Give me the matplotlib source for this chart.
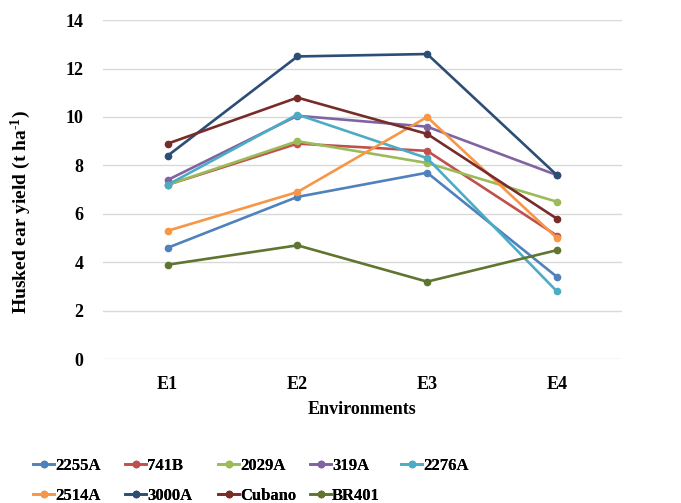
import matplotlib
matplotlib.use("Agg")
import matplotlib.pyplot as plt

envs = ["E1", "E2", "E3", "E4"]
names = ["2255A", "741B", "2029A", "319A", "2276A", "2514A", "3000A", "Cubano", "BR401"]
v_2255A = [4.6, 6.7, 7.7, 3.4]
v_741B = [7.2, 8.9, 8.6, 5.1]
v_2029A = [7.2, 9.0, 8.1, 6.5]
v_319A = [7.4, 10.05, 9.6, 7.6]
v_2276A = [7.2, 10.1, 8.3, 2.8]
v_2514A = [5.3, 6.9, 10.0, 5.0]
v_3000A = [8.4, 12.5, 12.6, 7.6]
v_Cubano = [8.9, 10.8, 9.3, 5.8]
v_BR401 = [3.9, 4.7, 3.2, 4.5]
series = [v_2255A, v_741B, v_2029A, v_319A, v_2276A, v_2514A, v_3000A, v_Cubano, v_BR401]
colors = ["#4F81BD", "#C0504D", "#9BBB59", "#8064A2", "#4BACC6",
          "#F79646", "#2C4D75", "#772C2A", "#5F7530"]

plt.rcParams['font.family'] = ['Liberation Serif', 'DejaVu Serif']
plt.rcParams['mathtext.fontset'] = 'custom'
plt.rcParams['mathtext.rm'] = 'Liberation Serif:bold'
plt.rcParams['mathtext.bf'] = 'Liberation Serif:bold'
plt.rcParams['mathtext.default'] = 'rm'

fig = plt.figure(figsize=(6.81, 5.03), dpi=100)
ax = fig.add_axes([0.151, 0.286, 0.762, 0.674])

x = list(range(len(envs)))
handles = []
for name, vals, c in zip(names, series, colors):
    h, = ax.plot(x, vals, color=c, lw=1.9, marker='o', ms=4.5, label=name)
    handles.append(h)

ax.set_xlim(-0.5, 3.5)
ax.set_ylim(0, 14)
ax.set_yticks(range(0, 15, 2))
ax.set_xticks(x)
ax.set_xticklabels(envs)
ax.grid(axis='y', color='#D9D9D9', lw=1.0)
ax.set_axisbelow(True)
for s in ax.spines.values():
    s.set_visible(False)
ax.tick_params(axis='x', length=0, labelsize=13, pad=12)
ax.tick_params(axis='y', length=0, labelsize=13, pad=14)
for lab in ax.get_xticklabels() + ax.get_yticklabels():
    lab.set_fontweight('bold')
ax.set_xlabel("Environments", fontsize=13, fontweight='bold', labelpad=6)
ax.set_ylabel("Husked ear yield (t ha$^{\\text{-1}}$)", fontsize=14, fontweight='bold')
ax.yaxis.set_label_coords(-0.135, 0.434)

# legend: 5 fixed-width columns, filled row-wise
col_x = [35, 127, 220, 312, 403]
ncol = 5
for ci in range(ncol):
    idx = [i for i in range(len(names)) if i % ncol == ci]
    leg = fig.legend([handles[i] for i in idx], [names[i] for i in idx],
                     loc='upper left', bbox_to_anchor=(col_x[ci] / 681 - 0.012, 1 - 451 / 503),
                     frameon=False, prop={'size': 12, 'weight': 'bold'},
                     handlelength=1.25, handletextpad=0.05, labelspacing=0.85,
                     borderaxespad=0.0)
    fig.add_artist(leg)

fig.savefig("out.png", dpi=100)
